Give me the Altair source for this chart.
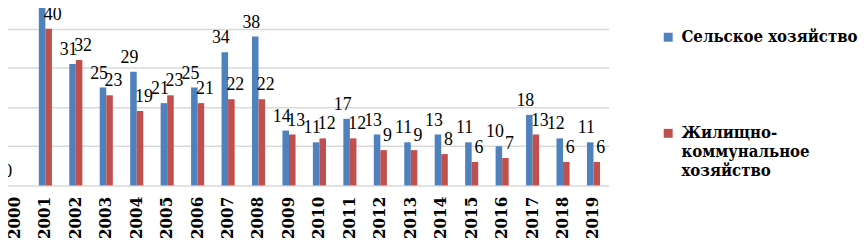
import altair as alt
import pandas as pd

years = [str(y) for y in range(2000, 2020)]
agri = [0, 46, 31, 25, 29, 21, 25, 34, 38, 14, 11, 17, 13, 11, 13, 11, 10, 18, 12, 11]
housing = [0, 40, 32, 23, 19, 23, 21, 22, 22, 13, 12, 12, 9, 9, 8, 6, 7, 13, 6, 6]
series_names = ["Сельское хозяйство", "Жилищно-коммунальное хозяйство"]
housing_lines = ["Жилищно-", "коммунальное", "хозяйство"]
colors = ["#4F81BD", "#C0504D"]

SERIF = "Liberation Serif, Times New Roman, serif"
SERIF_BOLD = "DejaVu Serif Condensed, DejaVu Serif"

rows = []
for i, y in enumerate(years):
    rows.append({"year": y, "series": series_names[0], "value": agri[i]})
    rows.append({"year": y, "series": series_names[1], "value": housing[i]})
df = pd.DataFrame(rows)

lines_js = "[" + ", ".join("'" + s + "'" for s in housing_lines) + "]"
label_expr = f"datum.label == '{series_names[1]}' ? {lines_js} : datum.label"

x_enc = alt.X(
    "year:N",
    sort=years,
    scale=alt.Scale(range=[-8.37, 606.37], paddingInner=0.57, paddingOuter=0.285),
    axis=alt.Axis(
        title=None, domain=False, ticks=False, grid=False,
        labelAngle=270, labelAlign="right", labelBaseline="middle",
        labelPadding=11, labelFont=SERIF_BOLD, labelFontWeight="bold",
        labelFontSize=17, labelColor="#000000",
    ),
)
xoff_enc = alt.XOffset("series:N", sort=series_names, scale=alt.Scale(paddingInner=0, paddingOuter=0))
y_enc = alt.Y(
    "value:Q",
    scale=alt.Scale(domain=[0, 45], nice=False),
    axis=alt.Axis(
        title=None, labels=False, ticks=False, domain=False, grid=True,
        values=[0, 10, 20, 30, 40], gridColor="#d9d9d9", gridWidth=1.5,
    ),
)
color_enc = alt.Color(
    "series:N",
    sort=series_names,
    scale=alt.Scale(domain=series_names, range=colors),
    legend=alt.Legend(
        title=None, orient="none", legendX=658, legendY=20, direction="vertical",
        symbolType="square", symbolSize=81, symbolStrokeWidth=0,
        labelFont=SERIF_BOLD, labelFontWeight="bold", labelFontSize=16.8,
        labelColor="#000000", labelLimit=400, labelOffset=5, rowPadding=79,
        labelExpr=label_expr, padding=0,
    ),
)

base = alt.Chart(df)
bars = base.mark_bar().encode(x=x_enc, xOffset=xoff_enc, y=y_enc, color=color_enc)

text_common = dict(baseline="bottom", align="center", dy=-5,
                   font=SERIF, fontSize=18, color="#000000")
labels_a = base.transform_filter(
    alt.datum.series == series_names[0]
).mark_text(dx=-4, **text_common).encode(
    x=x_enc, xOffset=xoff_enc, y=y_enc, text="value:Q"
)
labels_b = base.transform_filter(
    (alt.datum.series == series_names[1]) & (alt.datum.value > 0)
).mark_text(dx=4, **text_common).encode(
    x=x_enc, xOffset=xoff_enc, y=y_enc, text="value:Q"
)

chart = alt.layer(bars, labels_a, labels_b).properties(
    width=606, height=178,
    autosize=alt.AutoSizeParams(type="none"),
    padding={"left": 0, "top": 0, "right": 252, "bottom": 55},
    background="white",
).configure_view(stroke=None)

chart.save("out.html", embed_options={"renderer": "svg", "actions": False})
